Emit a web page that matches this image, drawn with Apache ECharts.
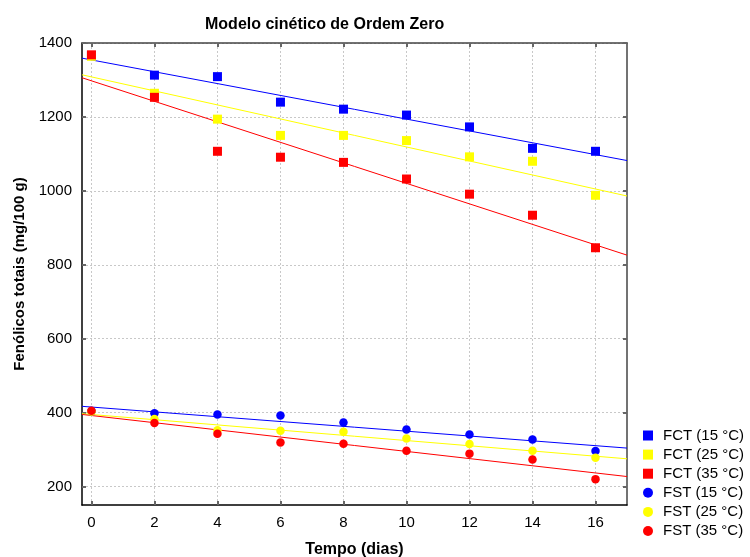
<!DOCTYPE html>
<html>
<head>
<meta charset="utf-8">
<script src="https://cdn.jsdelivr.net/npm/echarts@6/dist/echarts.min.js"></script>
<style>html,body{margin:0;padding:0;background:#fff}#c{width:750px;height:557px}</style>
</head>
<body>
<div id="c"></div>
<script>
// Data
var days = [0, 2, 4, 6, 8, 10, 12, 14, 16];
var fct15 = [1366, 1313, 1309, 1240, 1221, 1205, 1173, 1115, 1107];
var fct25 = [1364, 1264, 1194, 1150, 1150, 1136, 1092, 1080, 988];
var fct35 = [1368, 1253, 1107, 1091, 1077, 1032, 991, 934, 846];
var fst15 = [404, 398, 395, 392, 373, 354, 341, 327, 296];
var fst25 = [403, 383, 352, 351, 348, 330, 315, 297, 278];
var fst35 = [405, 372, 343, 319, 316, 297, 289, 273, 220];

// Fitted zero-order lines (values at the plot's left and right edges)
var fitX = [-0.3, 17];
var fitFct15 = [1359, 1082];
var fitFct25 = [1314, 986];
var fitFct35 = [1306, 826];
var fitFst15 = [417, 304];
var fitFst25 = [397, 275];
var fitFst35 = [395, 227];

var xTicks = [0, 2, 4, 6, 8, 10, 12, 14, 16];
var yTicks = [200, 400, 600, 800, 1000, 1200, 1400];

var names = ['FCT (15 °C)', 'FCT (25 °C)', 'FCT (35 °C)', 'FST (15 °C)', 'FST (25 °C)', 'FST (35 °C)'];
var colors = ['#0000ff', '#ffff00', '#ff0000', '#0000ff', '#ffff00', '#ff0000'];
var pts = [fct15, fct25, fct35, fst15, fst25, fst35];
var fits = [fitFct15, fitFct25, fitFct35, fitFst15, fitFst25, fitFst35];

function pairs(xs, ys) { return xs.map(function (x, i) { return [x, ys[i]]; }); }

var FONT = 'Arial, "Liberation Sans", sans-serif';
var series = [];
fits.forEach(function (f, i) {
  series.push({
    type: 'line', data: pairs(fitX, f), showSymbol: false, symbol: 'none', silent: true,
    lineStyle: { color: colors[i], width: 1 }, z: 2, animation: false
  });
});
pts.forEach(function (p, i) {
  series.push({
    type: 'scatter', name: names[i], data: pairs(days, p),
    symbol: i < 3 ? 'rect' : 'circle', symbolSize: i < 3 ? 9 : 8.5,
    itemStyle: { color: colors[i], opacity: 1 }, z: 3, animation: false
  });
});

var gridLine = { show: true, lineStyle: { color: '#c8c8c8', type: [2, 2], width: 1 } };
var axisBase = function (min, max, ticks, pos, main) {
  return {
    type: 'value', min: min, max: max, position: pos,
    axisLine: { show: true, onZero: false, lineStyle: { color: main ? '#000' : '#444', width: 1.5 } },
    axisTick: { show: true, inside: true, length: 4, customValues: ticks, lineStyle: { color: '#666', width: 2 } },
    axisLabel: {
      show: main, customValues: ticks, color: '#000', fontSize: 15, fontFamily: FONT, margin: 10,
      formatter: function (v) { return String(v); }
    },
    splitLine: main ? gridLine : { show: false }
  };
};

var xMain = axisBase(-0.3, 17, xTicks, 'bottom', true);
xMain.name = 'Tempo (dias)';
xMain.nameLocation = 'middle';
xMain.nameGap = 37;
xMain.nameTextStyle = { fontWeight: 'bold', fontSize: 16, fontFamily: FONT, color: '#000' };
var yMain = axisBase(150, 1400, yTicks, 'left', true);
yMain.name = 'Fenólicos totais (mg/100 g)';
yMain.nameLocation = 'middle';
yMain.nameGap = 55;
yMain.nameTextStyle = { fontWeight: 'bold', fontSize: 15, fontFamily: FONT, color: '#000' };

var option = {
  animation: false,
  backgroundColor: '#fff',
  title: {
    text: 'Modelo cinético de Ordem Zero', left: 200, top: 12,
    textStyle: { fontWeight: 'bold', fontSize: 16, fontFamily: FONT, color: '#000' }
  },
  grid: { left: 82, right: 123, top: 43, bottom: 52, containLabel: false, outerBoundsMode: 'none' },
  xAxis: [xMain, axisBase(-0.3, 17, xTicks, 'top', false)],
  yAxis: [yMain, axisBase(150, 1400, yTicks, 'right', false)],
  legend: {
    orient: 'vertical', left: 643, top: 428, padding: 0, itemWidth: 10, itemHeight: 10, itemGap: 4.1,
    data: names.map(function (n, i) { return { name: n, icon: i < 3 ? 'rect' : 'circle' }; }),
    textStyle: { fontSize: 15, fontFamily: FONT, color: '#000', padding: [0, 0, 0, 5] }
  },
  series: series
};
echarts.init(document.getElementById('c'), null, { renderer: 'canvas' }).setOption(option);
</script>
</body>
</html>
